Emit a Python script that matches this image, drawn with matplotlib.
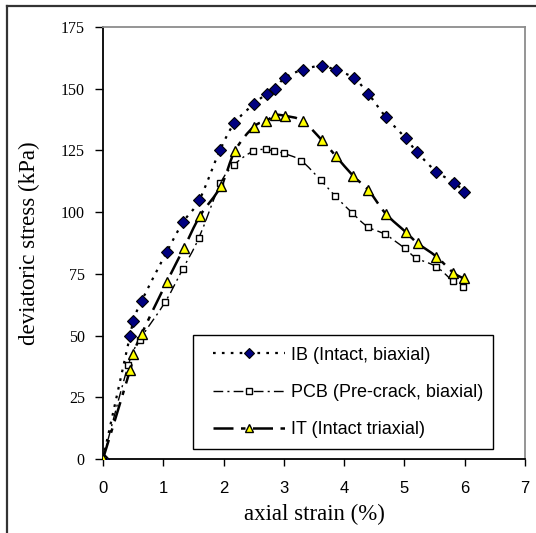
import numpy as np
import matplotlib
matplotlib.use("Agg")
import matplotlib.pyplot as plt
from matplotlib.path import Path
from matplotlib.patches import PathPatch, Rectangle
from matplotlib.lines import Line2D

ib_strain = [0, 0.45, 0.50, 0.64, 1.06, 1.33, 1.60, 1.94, 2.18, 2.51, 2.72, 2.85,
             3.02, 3.31, 3.63, 3.86, 4.16, 4.40, 4.69, 5.02, 5.21, 5.53, 5.83, 5.99]
ib_stress = [0, 50, 56, 64, 84, 96, 105, 125, 136, 144, 148, 150,
             154.5, 157.7, 159.3, 157.5, 154.4, 148, 138.6, 130, 124.3, 116.4, 112, 108]

pcb_strain = [0, 0.42, 0.61, 1.03, 1.32, 1.59, 1.95, 2.18, 2.49, 2.70, 2.84, 3.00,
              3.29, 3.61, 3.85, 4.13, 4.39, 4.68, 5.01, 5.19, 5.53, 5.80, 5.97]
pcb_stress = [0, 38, 48.2, 63.5, 76.8, 89.5, 111.7, 119.3, 124.7, 125.4, 124.7, 123.8,
              120.8, 113, 106.6, 99.8, 94.1, 91, 85.3, 81.5, 77.9, 72.2, 69.8]

it_strain = [0, 0.45, 0.50, 0.64, 1.06, 1.34, 1.61, 1.96, 2.19, 2.50, 2.71, 2.86,
             3.02, 3.31, 3.63, 3.86, 4.15, 4.40, 4.69, 5.02, 5.22, 5.53, 5.81, 5.98]
it_stress = [0, 36, 42.5, 50.6, 71.8, 85.3, 98.5, 110.6, 124.9, 134.6, 137, 139.3,
             139, 137, 129.2, 122.8, 114.7, 109, 99.4, 92, 87.4, 82, 75.5, 73.2]

labels = ["IB (Intact, biaxial)", "PCB (Pre-crack, biaxial)", "IT (Intact triaxial)"]
xticks = [0, 1, 2, 3, 4, 5, 6, 7]
yticks = [0, 25, 50, 75, 100, 125, 150, 175]


def smooth_path(xs, ys):
    # Excel-like smoothed line: Catmull-Rom segments as cubic Beziers
    p = np.column_stack([xs, ys]).astype(float)
    n = len(p)
    verts = [p[0]]
    codes = [Path.MOVETO]
    for i in range(n - 1):
        p0 = p[i - 1] if i > 0 else p[i]
        p3 = p[i + 2] if i + 2 < n else p[i + 1]
        c1 = p[i] + (p[i + 1] - p0) / 6.0
        c2 = p[i + 1] - (p3 - p[i]) / 6.0
        verts += [c1, c2, p[i + 1]]
        codes += [Path.CURVE4] * 3
    return Path(verts, codes)


fig = plt.figure(figsize=(5.36, 5.33), dpi=100)
ax = fig.add_axes([0.192, 0.1388, 0.7875, 0.8105])

styles = [
    dict(data=(ib_strain, ib_stress), lw=1.6, dash=(0, (1.2, 2.8)),
         marker="D", ms=6, mfc="#000080", mec="black", mew=0.8),
    dict(data=(pcb_strain, pcb_stress), lw=1.0, dash=(0, (7, 3, 1.5, 3)),
         marker="s", ms=5, mfc="white", mec="black", mew=1.0),
    dict(data=(it_strain, it_stress), lw=1.8, dash=(0, (8, 3, 1.8, 3)),
         marker="^", ms=7, mfc="#FFFF00", mec="black", mew=1.0),
]

handles = []
for st, lab in zip(styles, labels):
    xs, ys = st["data"]
    patch = PathPatch(smooth_path(xs, ys), fill=False, edgecolor="black",
                      lw=st["lw"], linestyle=st["dash"], zorder=2,
                      capstyle="butt")
    ax.add_patch(patch)
    ax.plot(xs, ys, ls="none", marker=st["marker"], ms=st["ms"],
            mfc=st["mfc"], mec=st["mec"], mew=st["mew"], zorder=3)
    handles.append(Line2D([], [], color="black", lw=st["lw"],
                          linestyle=st["dash"], dash_capstyle="butt",
                          marker=st["marker"], ms=st["ms"] - 1,
                          mfc=st["mfc"], mec=st["mec"], mew=st["mew"],
                          label=lab))

ax.set_xlim(0, 7)
ax.set_ylim(0, 175)
ax.set_xticks(xticks)
ax.set_yticks(yticks)

for lab in ax.get_xticklabels():
    lab.set_fontfamily("Liberation Sans")
    lab.set_fontsize(12)
for lab in ax.get_yticklabels():
    lab.set_fontfamily("Liberation Serif")
    lab.set_fontsize(11.5)

ax.tick_params(axis="x", direction="out", length=5, width=1, pad=11)
ax.tick_params(axis="y", direction="out", length=6, width=1, pad=7)

ax.spines["left"].set_color("black")
ax.spines["bottom"].set_color("black")
ax.spines["top"].set_color("#8c8c8c")
ax.spines["right"].set_color("#8c8c8c")
for s in ax.spines.values():
    s.set_linewidth(1.3)

ax.set_xlabel("axial strain (%)", fontfamily="Liberation Serif", fontsize=16.5,
              labelpad=5.5)
ax.set_ylabel("deviatoric stress (kPa)", fontfamily="Liberation Serif",
              fontsize=16.5, labelpad=15)

# legend box drawn separately so the entries can sit where the original has them
ax.add_patch(Rectangle((0.213, 0.023), 0.711, 0.264, transform=ax.transAxes,
                       facecolor="white", edgecolor="black", lw=1.0, zorder=4))
leg = ax.legend(handles=handles, loc="upper left",
                bbox_to_anchor=(0.2607, 0.260),
                prop={"family": "Liberation Sans", "size": 13},
                handlelength=4.0, handletextpad=0.3, labelspacing=1.12,
                borderaxespad=0, borderpad=0, frameon=False)
leg.set_zorder(5)

# outer border of the chart object
fig.add_artist(Line2D([7 / 536, 7 / 536], [0, 1 - 6 / 533], color="#333333",
                      lw=1.6, transform=fig.transFigure))
fig.add_artist(Line2D([7 / 536, 1], [1 - 6 / 533, 1 - 6 / 533],
                      color="#333333", lw=1.6, transform=fig.transFigure))

fig.savefig("out.png", dpi=100)
